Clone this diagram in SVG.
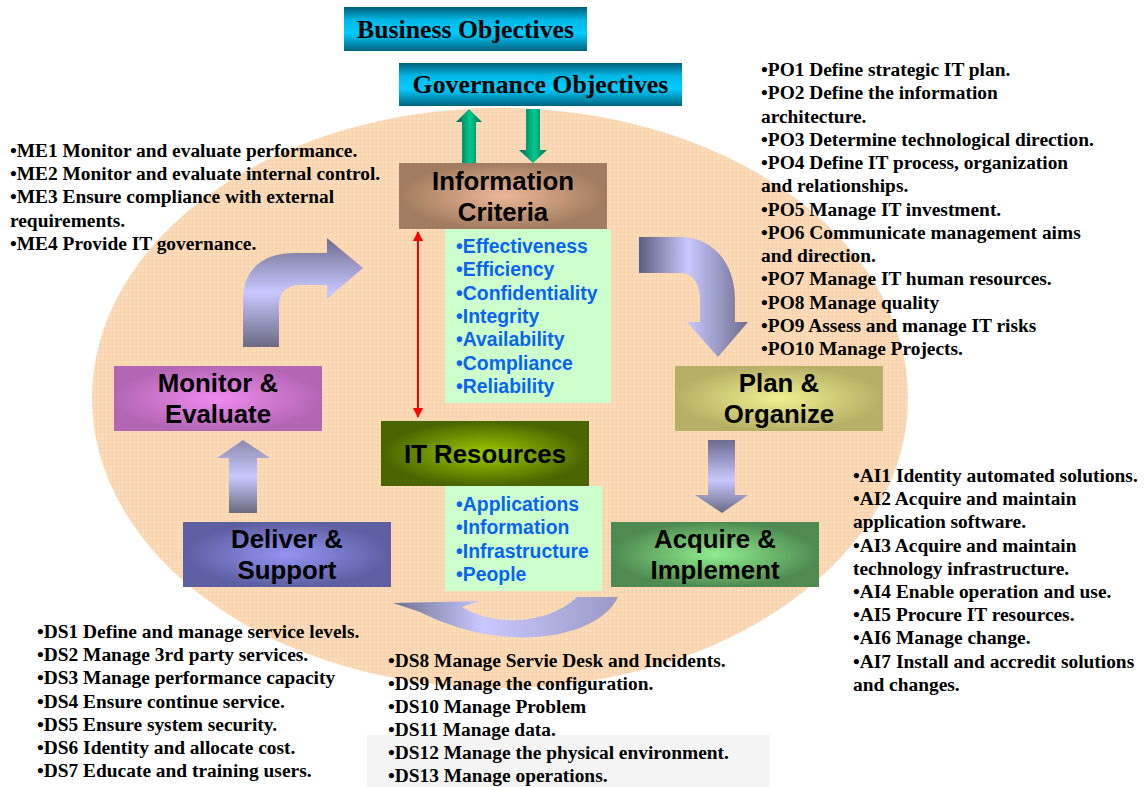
<svg xmlns="http://www.w3.org/2000/svg" width="1144" height="787" viewBox="0 0 1144 787">
  <defs>
    <style>
      .title { font-family: "Liberation Serif", "Times New Roman", serif; font-weight: bold; font-size: 25.8px; fill: #000; text-anchor: middle; }
      .box { font-family: "Liberation Sans", Arial, sans-serif; font-weight: bold; font-size: 25.8px; fill: #000; text-anchor: middle; }
      .list { font-family: "Liberation Sans", Arial, sans-serif; font-weight: bold; font-size: 19.4px; fill: #0A64F0; }
      .note { font-family: "Liberation Serif", "Times New Roman", serif; font-weight: bold; font-size: 19.4px; fill: #000; }
    </style>
    <pattern id="weave" width="4" height="4" patternUnits="userSpaceOnUse">
      <rect width="4" height="4" fill="#FDDBB8"/>
      <path d="M0 0.5H4M0.5 0V4" stroke="#F4CFAA" stroke-width="1" opacity="0.6"/>
    </pattern>
    <linearGradient id="teal" x1="0" y1="0" x2="0" y2="1">
      <stop offset="0" stop-color="#005E78"/>
      <stop offset="0.3" stop-color="#00B8E6"/>
      <stop offset="0.6" stop-color="#00CCFF"/>
      <stop offset="1" stop-color="#00627C"/>
    </linearGradient>
    <linearGradient id="green" x1="0" y1="0" x2="1" y2="0">
      <stop offset="0" stop-color="#00684C"/>
      <stop offset="0.55" stop-color="#00C890"/>
      <stop offset="1" stop-color="#006E50"/>
    </linearGradient>
    <radialGradient id="gInfo"><stop offset="0" stop-color="#EDB896"/><stop offset="1" stop-color="#A27C60"/></radialGradient>
    <radialGradient id="gRes"><stop offset="0" stop-color="#99CC00"/><stop offset="1" stop-color="#4A6400"/></radialGradient>
    <radialGradient id="gMon"><stop offset="0" stop-color="#F08CF0"/><stop offset="1" stop-color="#B466B4"/></radialGradient>
    <radialGradient id="gDel"><stop offset="0" stop-color="#9494F4"/><stop offset="1" stop-color="#5E5EA2"/></radialGradient>
    <radialGradient id="gPlan"><stop offset="0" stop-color="#F0F090"/><stop offset="1" stop-color="#B6B066"/></radialGradient>
    <radialGradient id="gAcq"><stop offset="0" stop-color="#90EE90"/><stop offset="1" stop-color="#4F8A50"/></radialGradient>
    <linearGradient id="bendL" gradientUnits="userSpaceOnUse" x1="0" y1="238" x2="0" y2="347">
      <stop offset="0" stop-color="#6C6C8C"/>
      <stop offset="0.5" stop-color="#C8C8FF"/>
      <stop offset="1" stop-color="#6A6A84"/>
    </linearGradient>
    <linearGradient id="bendR" gradientUnits="userSpaceOnUse" x1="639" y1="0" x2="748" y2="0">
      <stop offset="0" stop-color="#5E5E7E"/>
      <stop offset="0.45" stop-color="#C8C8FF"/>
      <stop offset="1" stop-color="#6C6C8C"/>
    </linearGradient>
    <linearGradient id="downG" gradientUnits="userSpaceOnUse" x1="0" y1="440" x2="0" y2="513">
      <stop offset="0" stop-color="#6C6C8E"/>
      <stop offset="0.55" stop-color="#C8C8FF"/>
      <stop offset="1" stop-color="#6A6A84"/>
    </linearGradient>
    <linearGradient id="upG" gradientUnits="userSpaceOnUse" x1="0" y1="440" x2="0" y2="513">
      <stop offset="0" stop-color="#8A8AAA"/>
      <stop offset="0.5" stop-color="#C8C8FF"/>
      <stop offset="1" stop-color="#6A6A80"/>
    </linearGradient>
    <linearGradient id="loopG" gradientUnits="userSpaceOnUse" x1="393" y1="0" x2="618" y2="0">
      <stop offset="0" stop-color="#707090"/>
      <stop offset="0.4" stop-color="#C8C8FF"/>
      <stop offset="1" stop-color="#9A9AC4"/>
    </linearGradient>
    <marker id="redHead" viewBox="0 0 10 10" refX="9" refY="5" markerWidth="5" markerHeight="5" orient="auto-start-reverse">
      <path d="M0 0L10 5L0 10Z" fill="#FF0000"/>
    </marker>
  </defs>

  <rect width="1144" height="787" fill="#FFFFFF"/>
  <rect x="367" y="735" width="403" height="52" fill="#F4F4F4"/>

  <!-- background cycle -->
  <ellipse cx="500" cy="398" rx="408" ry="290" fill="url(#weave)"/>

  <!-- connectors -->
  <g id="connectors">
    <path d="M456,122 L469,109 L482,122 L476,122 L476,163 L462,163 L462,122 Z" fill="url(#green)"/>
    <path d="M526,109 L540,109 L540,150 L547,150 L533,163 L519,150 L526,150 Z" fill="url(#green)"/>
    <line x1="418" y1="232" x2="418" y2="417" stroke="#FF0000" stroke-width="2" marker-start="url(#redHead)" marker-end="url(#redHead)"/>
    <path d="M243,347 L243,300 C243,270 262,253 295,253 L327,253 L327,238 L363,268 L327,299 L327,285 L300,285 C286,285 279,293 279,305 L279,347 Z" fill="url(#bendL)"/>
    <path d="M639,237 L680,237 C712,237 735,262 735,300 L735,322 L748,322 L718,357 L687,322 L700,322 L700,300 C700,282 692,273 680,273 L639,273 Z" fill="url(#bendR)"/>
    <path d="M708,440 L735,440 L735,495 L748,495 L722,513 L695,495 L708,495 Z" fill="url(#downG)"/>
    <path d="M243,440 L270,458 L257,458 L257,513 L229,513 L229,458 L217,458 Z" fill="url(#upG)"/>
    <path d="M393,603 L480,601 L462,607 C490,625 545,627 577,597 L618,597 C605,625 560,640 510,637 C470,634 440,622 420,612 Z" fill="url(#loopG)"/>
  </g>

  <g id="business-objectives">
    <rect x="344" y="7" width="243" height="44" fill="url(#teal)"/>
    <text class="title" x="465.5" y="38">Business Objectives</text>
  </g>

  <g id="governance-objectives">
    <rect x="399" y="63" width="283" height="43" fill="url(#teal)"/>
    <text class="title" x="540.5" y="93">Governance Objectives</text>
  </g>

  <g id="information-criteria">
    <rect x="399" y="163" width="208" height="66" fill="url(#gInfo)"/>
    <text class="box" x="503" y="190">Information</text>
    <text class="box" x="503" y="221">Criteria</text>
  </g>

  <g id="criteria-list">
    <rect x="445" y="229" width="166" height="174" fill="#CCFFCC"/>
    <text class="list" x="456">
      <tspan x="456" y="253">•Effectiveness</tspan>
      <tspan x="456" y="276.3">•Efficiency</tspan>
      <tspan x="456" y="299.6">•Confidentiality</tspan>
      <tspan x="456" y="322.9">•Integrity</tspan>
      <tspan x="456" y="346.2">•Availability</tspan>
      <tspan x="456" y="369.5">•Compliance</tspan>
      <tspan x="456" y="392.8">•Reliability</tspan>
    </text>
  </g>

  <g id="it-resources">
    <rect x="381" y="421" width="208" height="65" fill="url(#gRes)"/>
    <text class="box" x="485" y="463">IT Resources</text>
  </g>

  <g id="resource-list">
    <rect x="445" y="486" width="157" height="105" fill="#CCFFCC"/>
    <text class="list" x="456">
      <tspan x="456" y="511">•Applications</tspan>
      <tspan x="456" y="534.3">•Information</tspan>
      <tspan x="456" y="557.6">•Infrastructure</tspan>
      <tspan x="456" y="580.9">•People</tspan>
    </text>
  </g>

  <g id="monitor-evaluate">
    <rect x="114" y="366" width="208" height="65" fill="url(#gMon)"/>
    <text class="box" x="218" y="392">Monitor &amp;</text>
    <text class="box" x="218" y="423">Evaluate</text>
  </g>

  <g id="plan-organize">
    <rect x="675" y="366" width="208" height="65" fill="url(#gPlan)"/>
    <text class="box" x="779" y="392">Plan &amp;</text>
    <text class="box" x="779" y="423">Organize</text>
  </g>

  <g id="deliver-support">
    <rect x="183" y="522" width="208" height="65" fill="url(#gDel)"/>
    <text class="box" x="287" y="548">Deliver &amp;</text>
    <text class="box" x="287" y="579">Support</text>
  </g>

  <g id="acquire-implement">
    <rect x="611" y="522" width="208" height="65" fill="url(#gAcq)"/>
    <text class="box" x="715" y="548">Acquire &amp;</text>
    <text class="box" x="715" y="579">Implement</text>
  </g>

  <g id="me-processes">
    <text class="note">
      <tspan x="10" y="157">•ME1 Monitor and evaluate performance.</tspan>
      <tspan x="10" y="180.2">•ME2 Monitor and evaluate internal control.</tspan>
      <tspan x="10" y="203.4">•ME3 Ensure compliance with external</tspan>
      <tspan x="10" y="226.6">requirements.</tspan>
      <tspan x="10" y="249.8">•ME4 Provide IT governance.</tspan>
    </text>
  </g>

  <g id="po-processes">
    <text class="note">
      <tspan x="761" y="76">•PO1 Define strategic IT plan.</tspan>
      <tspan x="761" y="99.25">•PO2 Define the information</tspan>
      <tspan x="761" y="122.5">architecture.</tspan>
      <tspan x="761" y="145.75">•PO3 Determine technological direction.</tspan>
      <tspan x="761" y="169">•PO4 Define IT process, organization</tspan>
      <tspan x="761" y="192.25">and relationships.</tspan>
      <tspan x="761" y="215.5">•PO5 Manage IT investment.</tspan>
      <tspan x="761" y="238.75">•PO6 Communicate management aims</tspan>
      <tspan x="761" y="262">and direction.</tspan>
      <tspan x="761" y="285.25">•PO7 Manage IT human resources.</tspan>
      <tspan x="761" y="308.5">•PO8 Manage quality</tspan>
      <tspan x="761" y="331.75">•PO9 Assess and manage IT risks</tspan>
      <tspan x="761" y="355">•PO10 Manage Projects.</tspan>
    </text>
  </g>

  <g id="ai-processes">
    <text class="note">
      <tspan x="853" y="482">•AI1 Identity automated solutions.</tspan>
      <tspan x="853" y="505.2">•AI2 Acquire and maintain</tspan>
      <tspan x="853" y="528.4">application software.</tspan>
      <tspan x="853" y="551.6">•AI3 Acquire and maintain</tspan>
      <tspan x="853" y="574.8">technology infrastructure.</tspan>
      <tspan x="853" y="598">•AI4 Enable operation and use.</tspan>
      <tspan x="853" y="621.2">•AI5 Procure IT resources.</tspan>
      <tspan x="853" y="644.4">•AI6 Manage change.</tspan>
      <tspan x="853" y="667.6">•AI7 Install and accredit solutions</tspan>
      <tspan x="853" y="690.8">and changes.</tspan>
    </text>
  </g>

  <g id="ds-processes-1">
    <text class="note">
      <tspan x="37" y="638">•DS1 Define and manage service levels.</tspan>
      <tspan x="37" y="661.2">•DS2 Manage 3rd party services.</tspan>
      <tspan x="37" y="684.4">•DS3 Manage performance capacity</tspan>
      <tspan x="37" y="707.6">•DS4 Ensure continue service.</tspan>
      <tspan x="37" y="730.8">•DS5 Ensure system security.</tspan>
      <tspan x="37" y="754">•DS6 Identity and allocate cost.</tspan>
      <tspan x="37" y="777.2">•DS7 Educate and training users.</tspan>
    </text>
  </g>

  <g id="ds-processes-2">
    <text class="note">
      <tspan x="388" y="667">•DS8 Manage Servie Desk and Incidents.</tspan>
      <tspan x="388" y="690">•DS9 Manage the configuration.</tspan>
      <tspan x="388" y="713">•DS10 Manage Problem</tspan>
      <tspan x="388" y="736">•DS11 Manage data.</tspan>
      <tspan x="388" y="759">•DS12 Manage the physical environment.</tspan>
      <tspan x="388" y="782">•DS13 Manage operations.</tspan>
    </text>
  </g>
</svg>
